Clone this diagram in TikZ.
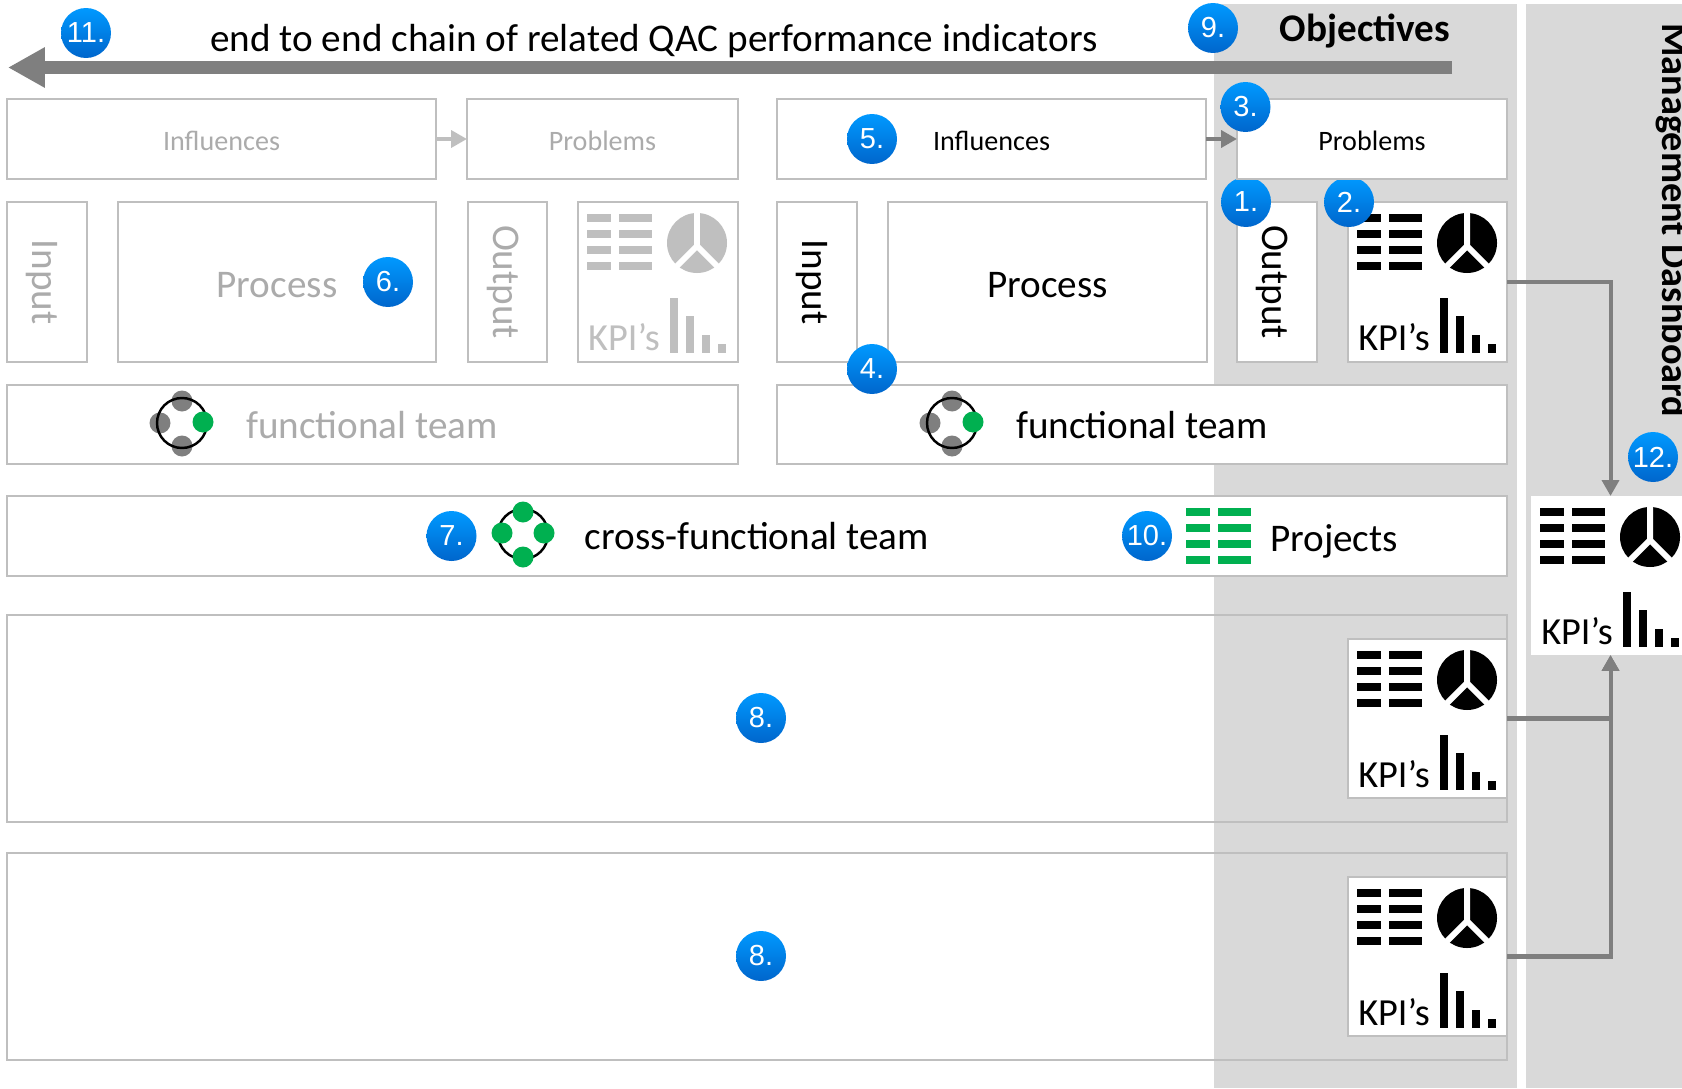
\documentclass[tikz,border=0pt]{standalone}
\usepackage{fontspec}
\usepackage{xcolor}
\usetikzlibrary{arrows.meta}
\setmainfont{Carlito}
\newfontfamily\badgefont{Liberation Sans}
\definecolor{panelgray}{HTML}{D9D9D9}
\definecolor{boxgray}{HTML}{BFBFBF}
\definecolor{fadegray}{HTML}{ABABAB}
\definecolor{flowgray}{HTML}{7F7F7F}
\definecolor{teamgreen}{HTML}{00B050}
\definecolor{badgetop}{HTML}{0099FF}
\definecolor{badgebot}{HTML}{0066CC}
\tikzset{
  frame/.style 2 args={draw=boxgray, line width=1.2pt, anchor=north west, inner sep=0pt, outer sep=0pt,
    minimum width=#1*0.02cm, minimum height=#2*0.02cm},
  cell/.style 2 args={frame={#1}{#2}, fill=white},
  big/.style={font=\fontsize{22.3}{26}\selectfont},
  small/.style={font=\fontsize{16}{19}\selectfont, text height=13pt, text depth=0pt},
  proc/.style={big, text height=17.5pt, text depth=0pt},
  faded/.style={text=fadegray},
  badge/.style={circle, minimum size=1cm, inner sep=0pt, top color=badgetop, bottom color=badgebot,
    text=white, font=\badgefont\fontsize{16.5}{19}\selectfont},
  flow/.style={draw=flowgray, line width=2.3pt, -{Triangle[length=9pt,width=9.5pt]}},
  member/.style={circle, minimum size=0.42cm, inner sep=0pt},
  ring/.style={draw=black, line width=1.4pt}
}
\newcommand{\vlabel}[1]{\rotatebox{-90}{\rule{0pt}{20pt}#1}}
\newcommand{\listicon}[3]{
  \begin{scope}[shift={(#1,#2)}]
    \foreach \r in {12,28,44,60} {
      \fill[#3] (9,\r) rectangle (33,\r+8);
      \fill[#3] (41,\r) rectangle (74,\r+8);
    }
  \end{scope}
}
\newcommand{\kpiicons}[4]{
  \listicon{#1}{#2}{#3}
  \begin{scope}[shift={(#1,#2)}]
    \fill[#3] (119,41) circle (30);
    \draw[white, line width=3.4pt] (119,9) -- (119,44) -- (97,66) (119,44) -- (141,66);
    \fill[#3] (92,96) rectangle (100,151);
    \fill[#3] (108,114) rectangle (116,151);
    \fill[#3] (124,133) rectangle (132,151);
    \fill[#3] (140,142) rectangle (148,151);
    \node[font=\fontsize{21.8}{25}\selectfont, text=#3, anchor=base] (Kpi#4) at (46,148) {KPI’s};
  \end{scope}
}
\newcommand{\teamicon}[3]{
  \begin{scope}[shift={(#1,#2)}]
    \node[member, fill=flowgray] (Top#3) at (0,-22) {};
    \node[member, fill=flowgray] (Bot#3) at (0,23) {};
    \node[member, fill=flowgray] (Lft#3) at (-22,0) {};
    \draw[ring] (0,0) circle (25);
    \node[member, fill=teamgreen] (Rgt#3) at (21,-1) {};
  \end{scope}
}
\begin{document}
\begin{tikzpicture}[x=0.02cm,y=-0.02cm]
      \useasboundingbox (0,0) rectangle (1682,1088);
      \fill[white] (0,0) rectangle (1682,1088);
      \fill[panelgray] (1214,4) rectangle (1517,1088);
      \fill[panelgray] (1526,4) rectangle (1682,1088);
      \node[anchor=base, font=\fontsize{22.3}{26}\selectfont\bfseries] (Obj) at (1365,42) {Objectives};
      \node[anchor=base west, rotate=-90, font=\fontsize{21.8}{26}\selectfont\bfseries] (Dash) at (1662,17) {Management Dashboard};
      \node[big, anchor=base] (Chain) at (654,52) {end to end chain of related QAC performance indicators};
      \coordinate (ChainR) at (1452,67.5);
      \coordinate (ChainL) at (8,67.5);
      \draw[draw=flowgray, line width=7.4pt, -{Triangle[length=21pt,width=21.6pt]}] (ChainR) -- (ChainL);

      \node[cell={429}{80}, small, faded] (InfA) at (7,99) {Influences};
      \node[cell={271}{80}, small, faded] (ProbA) at (467,99) {Problems};
      \draw[flow, draw=boxgray] (InfA) -- (ProbA);
      \node[cell={80}{160}, big, faded] (InA) at (7,202) {\vlabel{Input}};
      \node[cell={318}{160}, proc, faded] (ProcA) at (118,202) {Process};
      \node[cell={79}{160}, big, faded] (OutA) at (468,202) {\vlabel{Output}};
      \node[cell={160}{160}] (KpiBoxA) at (578,202) {};
      \kpiicons{578}{202}{boxgray}{A}
      \node[cell={731}{79}] (TeamA) at (7,385) {};
      \teamicon{182}{423}{A}
      \node[big, faded, anchor=base] (TeamTextA) at (372,438) {functional team};

      \node[cell={429}{80}, small] (InfB) at (777,99) {Influences};
      \node[cell={80}{160}, big] (InB) at (777,202) {\vlabel{Input}};
      \node[cell={319}{160}, proc] (ProcB) at (888,202) {Process};
      \node[cell={80}{160}, big] (OutB) at (1237,202) {\vlabel{Output}};
      \node[cell={159}{160}] (KpiBoxB) at (1348,202) {};
      \kpiicons{1348}{202}{black}{B}
      \node[cell={730}{79}] (TeamB) at (777,385) {};
      \teamicon{952}{423}{B}
      \node[big, anchor=base] (TeamTextB) at (1142,438) {functional team};

      \node[cell={1500}{80}] (Cross) at (7,496) {};
      \draw[ring] (523,534) circle (25);
      \node[member, fill=teamgreen] (TopC) at (523,512) {};
      \node[member, fill=teamgreen] (BotC) at (523,557) {};
      \node[member, fill=teamgreen] (LftC) at (502,533) {};
      \node[member, fill=teamgreen] (RgtC) at (544,533) {};
      \node[big, anchor=base] (CrossText) at (757,549) {cross-functional team};
      \listicon{1177}{496}{teamgreen}
      \node[big, anchor=base] (Proj) at (1334,551) {Projects};

      \node[frame={1500}{207}] (RowA) at (7,615) {};
      \node[frame={1500}{207}] (RowB) at (7,853) {};
      \node[cell={159}{159}] (KpiBoxC) at (1348,639) {};
      \kpiicons{1348}{639}{black}{C}
      \node[cell={159}{159}] (KpiBoxD) at (1348,877) {};
      \kpiicons{1348}{877}{black}{D}
      \node[cell={159}{159}, draw=none] (KpiBoxE) at (1531,496) {};
      \kpiicons{1531}{496}{black}{E}

      \draw[flow] (KpiBoxB.east) -| (KpiBoxE.north);
      \draw[flow] (KpiBoxC.east) -| (KpiBoxE.south);
      \draw[flow] (KpiBoxD.east) -| (KpiBoxE.south);

      \node[badge] (One) at (1246,202) {1.};
      \node[badge] (Two) at (1349,202) {2.};
      \node[cell={270}{80}, small] (ProbB) at (1237,99) {Problems};
      \draw[flow] (InfB) -- (ProbB);
      \node[badge] (Three) at (1245.5,107) {3.};
      \node[badge] (Four) at (872,369) {4.};
      \node[badge] (Five) at (872,139) {5.};
      \node[badge] (Six) at (388,282) {6.};
      \node[badge] (Seven) at (451.5,536) {7.};
      \node[badge] (EightA) at (761,718) {8.};
      \node[badge] (EightB) at (761,956) {8.};
      \node[badge] (Nine) at (1213,28) {9.};
      \node[badge] (Ten) at (1147,536) {10.};
      \node[badge] (Eleven) at (86,33) {11.};
      \node[badge] (Twelve) at (1653,457) {12.};
    \end{tikzpicture}
\end{document}
